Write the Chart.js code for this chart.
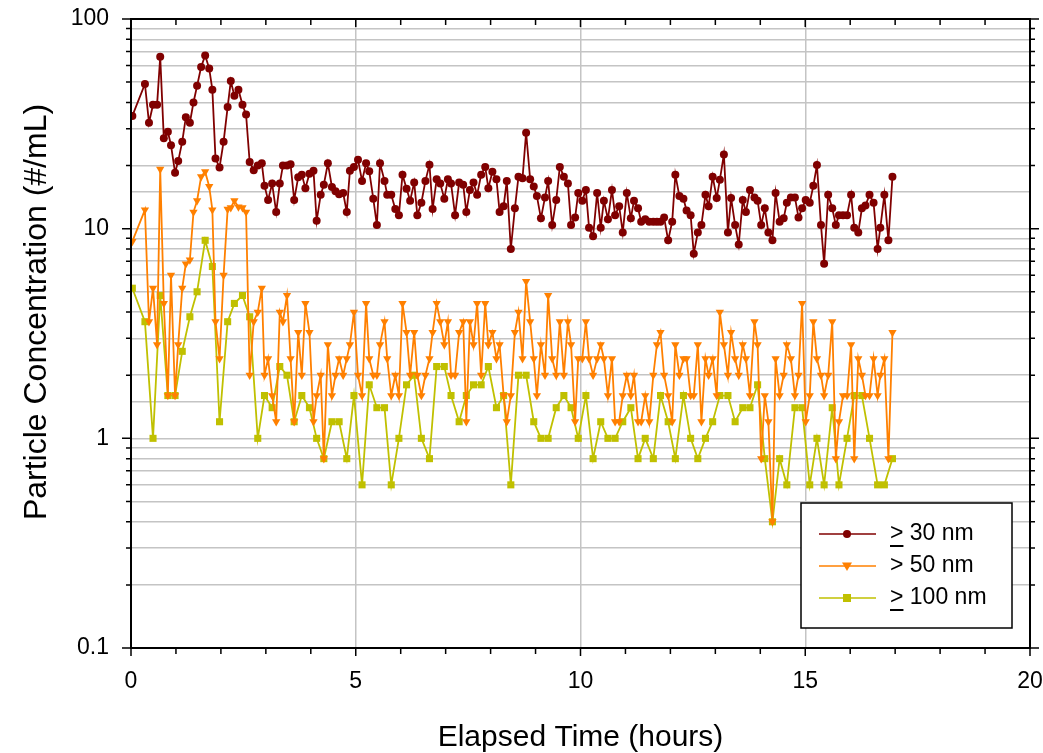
<!DOCTYPE html>
<html>
<head>
<meta charset="utf-8">
<script src="https://cdn.jsdelivr.net/npm/chart.js@4.4.1/dist/chart.umd.min.js"></script>
<style>
  html, body { margin: 0; padding: 0; background: #fff; }
  #wrap { width: 1043px; height: 753px; }
</style>
</head>
<body>
<div id="wrap"><canvas id="chart" width="1043" height="753"></canvas></div>
<script>
/* ===========================
   DATA
=========================== */

// elapsed time (hours)
const times = [
  0.03,0.31,0.40,0.49,0.58,0.65,0.73,0.82,0.89,0.98,
  1.05,1.14,1.22,1.31,1.39,1.47,1.56,1.65,1.74,1.81,
  1.88,1.97,2.06,2.15,2.22,2.30,2.39,2.48,2.56,2.64,
  2.73,2.82,2.91,2.97,3.05,3.14,3.23,3.31,3.38,3.47,
  3.55,3.63,3.72,3.80,3.88,3.97,4.06,4.13,4.22,4.29,
  4.38,4.47,4.55,4.63,4.72,4.80,4.87,4.96,5.05,5.14,
  5.23,5.30,5.39,5.47,5.54,5.64,5.70,5.79,5.88,5.96,
  6.04,6.13,6.21,6.30,6.37,6.46,6.55,6.64,6.71,6.80,
  6.88,6.97,7.05,7.12,7.21,7.30,7.39,7.46,7.54,7.62,
  7.70,7.79,7.88,7.95,8.04,8.13,8.20,8.29,8.36,8.45,
  8.54,8.62,8.71,8.79,8.88,8.96,9.03,9.12,9.21,9.28,
  9.37,9.46,9.54,9.63,9.72,9.79,9.88,9.95,10.04,10.12,
  10.19,10.28,10.37,10.45,10.52,10.61,10.70,10.77,10.86,10.94,
  11.03,11.12,11.19,11.28,11.35,11.44,11.53,11.62,11.70,11.78,
  11.86,11.95,12.04,12.11,12.20,12.29,12.36,12.45,12.52,12.61,
  12.69,12.78,12.85,12.94,13.03,13.10,13.19,13.28,13.35,13.44,
  13.52,13.61,13.68,13.77,13.87,13.94,14.02,14.10,14.18,14.27,
  14.34,14.43,14.52,14.59,14.68,14.77,14.85,14.93,15.01,15.10,
  15.18,15.26,15.35,15.42,15.51,15.60,15.68,15.75,15.84,15.93,
  16.02,16.09,16.18,16.26,16.34,16.43,16.52,16.61,16.67,16.76,
  16.85,16.94
];

// >= 30 nm (#/mL)
const conc30 = [
  34.5,49,32,39,39,66,27,29,25,18.5,
  21,26,34,32,40,48,59,67,58,46,
  21.6,19.6,26,38,50.6,43,46,39,35,20.8,
  19,20,20.5,16,13.7,16.4,12,16.4,20,20,
  20.3,13.7,17.6,18.1,15.6,18.3,18.9,10.9,14.5,16.2,
  20.5,15.8,15.1,14.6,14.8,12,18.9,19.7,21.3,16.9,
  20.5,18.8,13.9,10.4,20.5,16.9,14.5,14.5,12.4,11.6,
  18.1,15.5,13.6,16.6,11.6,13.3,16.9,20.2,12.4,17.2,
  16.4,13.9,17.2,16.4,11.6,16.6,16.2,12,15.3,16.6,
  14.5,18.1,19.7,15.6,18.7,17.2,12,12.8,16.9,8.0,
  12.5,17.7,17.4,28.7,17.2,15.9,14.3,11.2,14.1,16.9,
  10.4,13.7,19.7,17.7,16.4,10.4,11.3,14.8,13.6,15.3,
  10.1,9.2,14.8,10.1,13.6,11.1,15.3,11.6,12.8,9.6,
  14.8,11.2,13.6,12.5,10.8,11.1,10.8,10.8,10.8,10.8,
  11.3,8.8,10.8,18.1,14.3,13.9,12.2,11.6,7.6,9.6,
  10.4,14.5,12.8,17.7,14.0,17.1,22.6,9.6,14,10.4,
  8.4,13.7,12,15.3,14.1,13.6,10.4,12.5,9.6,8.8,
  14.8,10.8,11.2,13.3,14.1,14.1,11.3,12.5,13.7,13.3,
  16,20.1,10.4,6.8,14.5,12.5,10.4,11.6,11.6,11.6,
  14.5,10.1,9.6,12.5,12.9,14.5,13.3,8.0,10.1,14.5,
  8.8,17.7
];

// > 50 nm (#/mL)
const conc50 = [
  8.7,12.3,3.6,5.2,2.8,19.2,4.4,1.6,6.0,1.6,
  2.8,5.2,6.8,7.1,12,13.6,17.7,18.7,15.9,12.3,
  3.6,2.4,6.0,12.4,12.6,13.6,12.7,12.6,12.0,2.0,
  3.6,4.0,5.2,2.0,2.4,1.6,1.2,4.0,3.6,4.8,
  2.4,1.2,3.2,2.0,4.4,3.2,1.2,1.6,2.0,0.8,
  2.8,1.6,2.0,2.4,2.0,2.4,2.8,4.0,2.0,1.6,
  4.4,2.4,2.0,2.0,2.8,3.6,2.4,1.6,2.0,1.6,
  4.4,3.2,2.0,3.2,2.0,1.6,2.0,2.4,3.2,4.4,
  3.6,2.8,3.6,2.0,2.0,3.2,3.6,1.2,3.6,2.8,
  4.4,2.0,4.4,2.8,3.2,2.4,2.8,1.6,1.2,1.6,
  3.2,4.0,2.4,5.6,3.6,2.4,1.6,2.8,2.0,4.8,
  2.4,2.0,3.6,2.0,3.6,2.8,1.2,2.4,2.4,3.6,
  2.4,2.0,2.4,2.8,2.4,1.6,2.4,1.2,1.2,1.6,
  2.0,1.6,2.0,1.2,1.2,1.6,1.2,2.0,2.8,3.2,
  2.0,1.6,1.2,2.8,2.0,2.4,2.4,1.6,1.6,2.8,
  1.2,2.4,2.0,2.4,1.6,4.0,2.8,2.0,3.2,2.4,
  2.0,2.8,2.4,1.6,3.6,2.8,0.8,1.6,1.2,0.4,
  2.4,1.6,2.0,2.8,2.4,1.6,2.0,4.4,1.2,1.6,
  3.6,2.4,2.0,1.6,2.0,3.6,0.8,1.2,1.6,1.6,
  2.8,0.8,2.4,2.0,1.6,1.6,2.4,1.6,2.0,2.4,
  0.8,3.2
];

// >= 100 nm (#/mL), only every other sample
const conc100 = [
  5.2,3.6,null,1.0,null,4.8,null,1.6,null,1.6,
  null,2.6,null,3.8,null,5.0,null,8.8,null,6.6,
  null,1.2,null,3.6,null,4.4,null,4.8,null,3.8,
  null,1.0,null,1.6,null,1.4,null,2.2,null,2.0,
  null,1.2,null,1.6,null,1.4,null,1.0,null,0.8,
  null,1.2,null,1.2,null,0.8,null,1.6,null,0.6,
  null,1.8,null,1.4,null,1.4,null,0.6,null,1.0,
  null,1.8,null,2.0,null,1.0,null,0.8,null,2.2,
  null,2.2,null,1.6,null,1.2,null,1.6,null,1.8,
  null,1.8,null,2.2,null,1.4,null,1.6,null,0.6,
  null,2.0,null,2.0,null,1.2,null,1.0,null,1.0,
  null,1.4,null,1.6,null,1.4,null,1.0,null,1.6,
  null,0.8,null,1.2,null,1.0,null,1.0,null,1.2,
  null,1.4,null,0.8,null,1.0,null,0.8,null,1.6,
  null,1.2,null,0.8,null,1.6,null,1.0,null,0.8,
  null,1.0,null,1.2,null,1.6,null,1.6,null,1.2,
  null,1.4,null,1.4,null,1.8,null,0.8,null,0.4,
  null,0.8,null,0.6,null,1.4,null,1.4,null,0.6,
  null,1.0,null,0.6,null,1.4,null,0.6,null,1.0,
  null,1.6,null,1.6,null,1.0,null,0.6,null,0.6,
  null,0.8
];

const seriesLabels = ["≥ 30 nm", "> 50 nm", "≥ 100 nm"];
const yMajorTicks = [0.1, 1, 10, 100];
const yTitle = "Particle Concentration (#/mL)";

const FONT = "'Liberation Sans', Arial, sans-serif";
const RED = "#800000";
const ORANGE = "#ff8000";
const OLIVE = "#c0c000";

function toPoints(values) {
    const pts = [];
    values.forEach((v, i) => {
        if (v !== null) pts.push({ x: times[i], y: v });
    });
    return pts;
}

/* ===========================
   FRAME + TICK MARKS + Y TITLE
=========================== */

const framePlugin = {
    id: "frame",
    afterDraw(chart) {
        const { ctx, chartArea: a, scales } = chart;
        const xs = scales.x;
        const ys = scales.y;
        ctx.save();
        ctx.strokeStyle = "#000";
        ctx.lineWidth = 1.5;
        ctx.beginPath();
        // x: tick every hour, top and bottom
        for (let h = 0; h <= 20; h++) {
            const px = xs.getPixelForValue(h);
            const len = h % 5 === 0 ? 8 : 6;
            ctx.moveTo(px, a.top);
            ctx.lineTo(px, a.top + len);
            ctx.moveTo(px, a.bottom);
            ctx.lineTo(px, a.bottom + len);
        }
        // y: log ticks left and right
        for (let e = -1; e <= 2; e++) {
            for (let k = 1; k <= 9; k++) {
                if (e === 2 && k > 1) break;
                const v = Number((k * Math.pow(10, e)).toFixed(4));
                const py = ys.getPixelForValue(v);
                const len = k === 1 ? 9 : 5;
                ctx.moveTo(a.left - len, py);
                ctx.lineTo(a.left, py);
                ctx.moveTo(a.right, py);
                ctx.lineTo(a.right + len, py);
            }
        }
        ctx.stroke();
        ctx.lineWidth = 2;
        ctx.strokeRect(a.left, a.top, a.right - a.left, a.bottom - a.top);

        // y axis title (sits a bit above the axis middle in the original)
        ctx.translate(37, 312);
        ctx.rotate(-Math.PI / 2);
        ctx.fillStyle = "#000";
        ctx.font = "32px " + FONT;
        ctx.textAlign = "center";
        ctx.textBaseline = "middle";
        ctx.fillText(yTitle, 0, 0);
        ctx.restore();
    }
};

/* ===========================
   LEGEND BOX
=========================== */

function drawMarker(ctx, style, x, y, r, color) {
    ctx.fillStyle = color;
    ctx.beginPath();
    if (style === "circle") {
        ctx.arc(x, y, r, 0, Math.PI * 2);
    } else if (style === "triangle") {
        ctx.moveTo(x - r, y - r * 0.7);
        ctx.lineTo(x + r, y - r * 0.7);
        ctx.lineTo(x, y + r);
        ctx.closePath();
    } else {
        ctx.rect(x - r, y - r, r * 2, r * 2);
    }
    ctx.fill();
}

const legendPlugin = {
    id: "boxLegend",
    afterDraw(chart) {
        const ctx = chart.ctx;
        const box = { x: 801, y: 503, w: 211, h: 125 };
        ctx.save();
        ctx.fillStyle = "#fff";
        ctx.fillRect(box.x, box.y, box.w, box.h);
        ctx.strokeStyle = "#000";
        ctx.lineWidth = 1.5;
        ctx.strokeRect(box.x, box.y, box.w, box.h);

        const rows = [534, 566, 598];
        const markers = ["circle", "triangle", "rect"];
        const sizes = [4, 5, 4];
        ctx.font = "23px " + FONT;
        ctx.textBaseline = "middle";
        chart.data.datasets.forEach((ds, i) => {
            const y = rows[i];
            ctx.strokeStyle = ds.borderColor;
            ctx.lineWidth = 1.5;
            ctx.beginPath();
            ctx.moveTo(819, y);
            ctx.lineTo(876, y);
            ctx.stroke();
            drawMarker(ctx, markers[i], 847, y, sizes[i], ds.borderColor);

            ctx.fillStyle = "#000";
            let tx = 890;
            let label = ds.label;
            if (label.startsWith("≥")) {
                const w = ctx.measureText(">").width;
                ctx.fillText(">", tx, y);
                ctx.fillRect(tx, y + 11, w, 2);
                tx += w;
                label = label.slice(1);
            }
            ctx.fillText(label, tx, y);
        });
        ctx.restore();
    }
};

/* ===========================
   CHART
=========================== */

const ctx = document.getElementById("chart").getContext("2d");

new Chart(ctx, {
    type: "line",
    data: {
        datasets: [
            {
                label: seriesLabels[0],
                data: toPoints(conc30),
                borderColor: RED,
                backgroundColor: RED,
                borderWidth: 1.8,
                pointStyle: "circle",
                pointRadius: 4,
                pointBorderWidth: 0
            },
            {
                label: seriesLabels[1],
                data: toPoints(conc50),
                borderColor: ORANGE,
                backgroundColor: ORANGE,
                borderWidth: 1.8,
                pointStyle: "triangle",
                pointRotation: 180,
                pointRadius: 4.8,
                pointBorderWidth: 0
            },
            {
                label: seriesLabels[2],
                data: toPoints(conc100),
                borderColor: OLIVE,
                backgroundColor: OLIVE,
                borderWidth: 1.8,
                pointStyle: "rect",
                pointRadius: 5,
                pointBorderWidth: 0
            }
        ]
    },
    options: {
        responsive: false,
        animation: false,
        layout: { padding: { top: 19, right: 13, left: 0, bottom: 0 } },
        plugins: {
            legend: { display: false },
            tooltip: { enabled: false }
        },
        elements: { line: { tension: 0 } },
        scales: {
            x: {
                type: "linear",
                min: 0,
                max: 20,
                afterFit: (scale) => {
                    scale.height = 105;
                    scale.paddingLeft = 0;
                    scale.paddingRight = 0;
                },
                border: { display: false },
                grid: { color: "#c4c4c4", lineWidth: 1.5, drawTicks: false },
                ticks: {
                    stepSize: 5,
                    padding: 20,
                    color: "#000",
                    font: { family: FONT, size: 23 },
                    maxRotation: 0
                },
                title: {
                    display: true,
                    text: "Elapsed Time (hours)",
                    color: "#000",
                    font: { family: FONT, size: 30, lineHeight: 1 },
                    padding: { top: 0, bottom: 0 }
                }
            },
            y: {
                type: "logarithmic",
                min: 0.1,
                max: 100,
                afterFit: (scale) => {
                    scale.width = 131;
                    scale.paddingTop = 0;
                    scale.paddingBottom = 0;
                },
                border: { display: false },
                grid: { color: "#c4c4c4", lineWidth: 1.5, drawTicks: false },
                ticks: {
                    autoSkip: false,
                    padding: 22,
                    color: "#000",
                    font: { family: FONT, size: 23 },
                    callback: (v) => yMajorTicks.includes(Number(v)) ? String(v) : ""
                }
            }
        }
    },
    plugins: [framePlugin, legendPlugin]
});
</script>
</body>
</html>
